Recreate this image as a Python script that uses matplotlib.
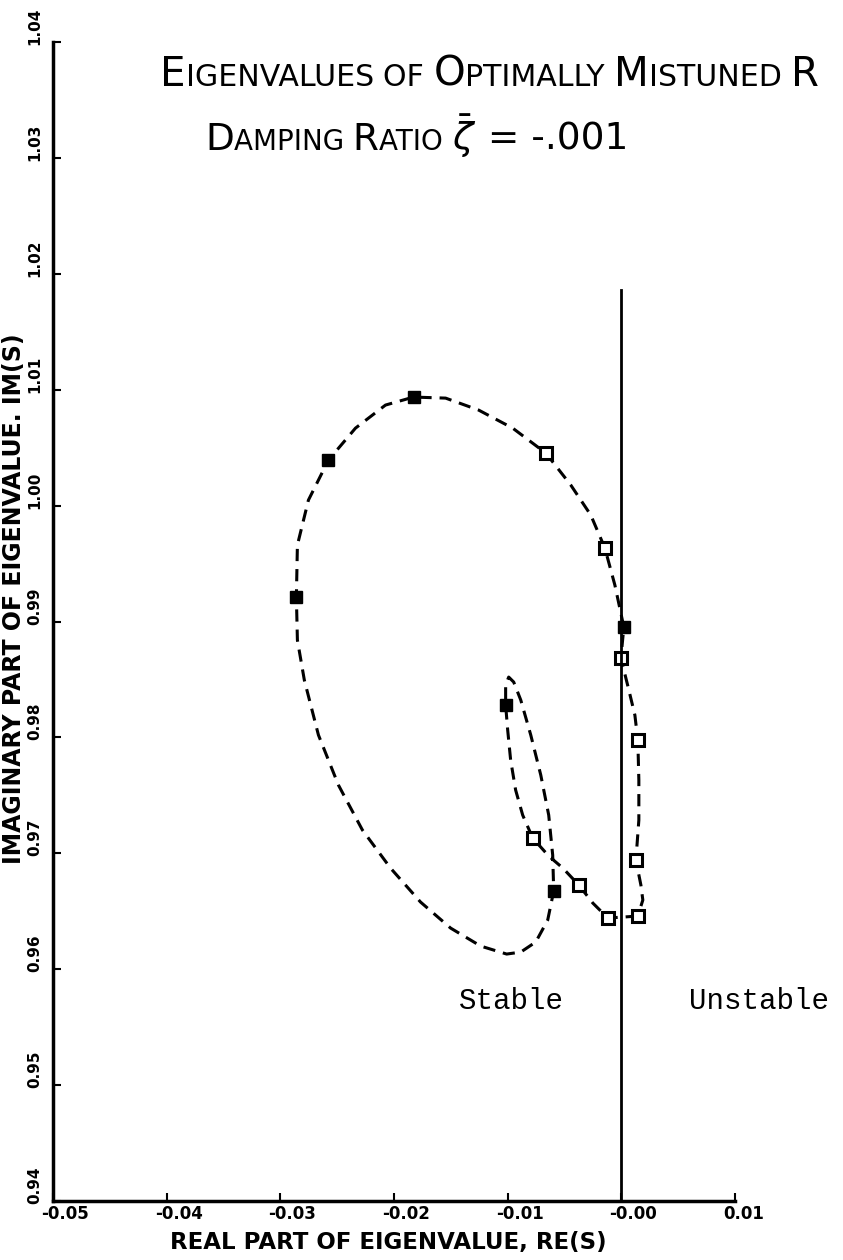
import numpy as np
import matplotlib
matplotlib.use("Agg")
import matplotlib.pyplot as plt
import matplotlib.transforms as mtransforms

# eigenvalue locus (closed curve)
curve_re = [0.00145, 0.00013, -0.00119, -0.00251, -0.00374, -0.00515, -0.00639, -0.00780,
            -0.00868, -0.00930, -0.00974, -0.01000, -0.01018, -0.01018, -0.00991, -0.00947,
            -0.00885, -0.00797, -0.00709, -0.00639, -0.00604, -0.00595, -0.00648, -0.00753,
            -0.00885, -0.01009, -0.01238, -0.01502, -0.01767, -0.02031, -0.02278, -0.02489,
            -0.02665, -0.02789, -0.02850, -0.02859, -0.02850, -0.02753, -0.02577, -0.02339,
            -0.02075, -0.01828, -0.01546, -0.01256, -0.00956, -0.00665, -0.00445, -0.00269,
            -0.00145, -0.00057, 0.00022, -0.00004, 0.00066, 0.00119, 0.00145, 0.00154,
            0.00154, 0.00128, 0.00172, 0.00189, 0.00145]
curve_im = [0.96459, 0.96450, 0.96442, 0.96571, 0.96726, 0.96873, 0.96977, 0.97132,
            0.97330, 0.97546, 0.97805, 0.98064, 0.98280, 0.98452, 0.98521, 0.98478,
            0.98323, 0.98021, 0.97676, 0.97330, 0.96985, 0.96675, 0.96424, 0.96235,
            0.96148, 0.96131, 0.96200, 0.96355, 0.96580, 0.96873, 0.97201, 0.97589,
            0.98021, 0.98495, 0.98840, 0.99211, 0.99660, 1.00048, 1.00393, 1.00669,
            1.00868, 1.00937, 1.00928, 1.00825, 1.00669, 1.00454, 1.00178, 0.99919,
            0.99634, 0.99315, 0.98952, 0.98685, 0.98409, 0.98193, 0.97977, 0.97632,
            0.97287, 0.96942, 0.96726, 0.96597, 0.96459]

# solid square markers
filled_re = [-0.01018, -0.00595, -0.02859, -0.02577, -0.01828, 0.00022]
filled_im = [0.98280, 0.96675, 0.99211, 1.00393, 1.00937, 0.98952]
# open square markers
open_re = [0.00145, -0.00119, -0.00374, -0.00780, -0.00665, -0.00145, -0.00004, 0.00145, 0.00128]
open_im = [0.96459, 0.96442, 0.96726, 0.97132, 1.00454, 0.99634, 0.98685, 0.97977, 0.96942]

xticks = [-0.05, -0.04, -0.03, -0.02, -0.01, 0.0, 0.01]
xticklabels = ['-0.05', '-0.04', '-0.03', '-0.02', '-0.01', '-0.00', '0.01']
yticks = [0.94, 0.95, 0.96, 0.97, 0.98, 0.99, 1.00, 1.01, 1.02, 1.03, 1.04]
yticklabels = ['0.94', '0.95', '0.96', '0.97', '0.98', '0.99', '1.00', '1.01', '1.02', '1.03', '1.04']

fig = plt.figure(figsize=(8.43, 12.6), dpi=100)
ax = fig.add_axes([0.0629, 0.0468, 0.809, 0.9198])

ax.plot(curve_re, curve_im, color='k', lw=2.2, linestyle=(0, (4, 2.6)))
ax.plot(filled_re, filled_im, 's', color='k', ms=9)
ax.plot(open_re, open_im, 's', mfc='white', mec='k', mew=2.2, ms=9)

# stability boundary
ax.plot([0.0, 0.0], [0.94, 1.0186], color='k', lw=2)

ax.set_xlim(-0.05, 0.01)
ax.set_ylim(0.94, 1.04)
ax.set_xticks(xticks)
ax.set_xticklabels(xticklabels)
ax.set_yticks(yticks)
ax.set_yticklabels(yticklabels, rotation=90)
ax.tick_params(direction='in', length=6, width=1.5, labelsize=12, pad=3)
ax.tick_params(axis='y', pad=8, labelsize=11)

# labels start at the tick (plotter style)
xoff = mtransforms.ScaledTranslation(-0.12, 0, fig.dpi_scale_trans)
for lab in ax.get_xticklabels():
    lab.set_fontweight('bold')
    lab.set_ha('left')
    lab.set_transform(lab.get_transform() + xoff)
yoff = mtransforms.ScaledTranslation(0, -0.03, fig.dpi_scale_trans)
for lab in ax.get_yticklabels():
    lab.set_fontweight('bold')
    lab.set_va('bottom')
    lab.set_transform(lab.get_transform() + yoff)

for s in ['top', 'right']:
    ax.spines[s].set_visible(False)
for s in ['left', 'bottom']:
    ax.spines[s].set_linewidth(2.5)

ax.set_xlabel('REAL PART OF EIGENVALUE, RE(S)', fontsize=16.5, fontweight='bold')
ax.xaxis.set_label_coords(0.491, -0.026)
ax.set_ylabel('IMAGINARY PART OF EIGENVALUE. IM(S)', fontsize=17, fontweight='bold')
ax.yaxis.set_label_coords(-0.04, 0.52)

ax.text(-0.00965, 0.9573, 'Stable', family='Liberation Mono', fontsize=21, ha='center', va='center')
ax.text(0.00595, 0.9573, 'Unstable', family='Liberation Mono', fontsize=21, ha='left', va='center',
        clip_on=False)


# title in small capitals, drawn piece by piece
def caps_line(x, y, pieces, big, small):
    r = fig.canvas.get_renderer()
    for txt, is_big in pieces:
        t = fig.text(x, y, txt, fontsize=big if is_big else small, va='baseline', ha='left')
        w = t.get_window_extent(renderer=r).width
        x += w / fig.bbox.width


caps_line(160 / 843, 1 - 86 / 1260,
          [('E', True), ('IGENVALUES ', False), ('OF ', False), ('O', True), ('PTIMALLY ', False),
           ('M', True), ('ISTUNED ', False), ('R', True)], big=29, small=21.6)
caps_line(205 / 843, 1 - 150 / 1260,
          [('D', True), ('AMPING ', False), ('R', True), ('ATIO ', False),
           (r'$\bar{\zeta}$', True), (' = -.001', True)], big=27, small=20)

fig.savefig('out.png', dpi=100)
